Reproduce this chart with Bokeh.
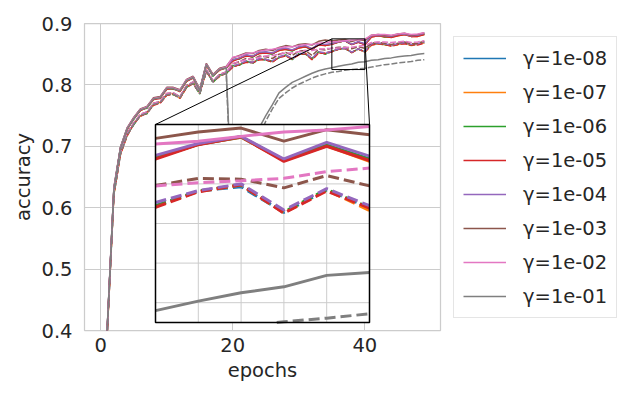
import math
from bokeh.plotting import figure
from bokeh.models import Range1d, FixedTicker, PrintfTickFormatter, Legend, LegendItem
from bokeh.embed import file_html
from bokeh.resources import INLINE

# ---------------- data ----------------
epochs = list(range(50))
gammas = ["1e-08", "1e-07", "1e-06", "1e-05", "1e-04", "1e-03", "1e-02", "1e-01"]
colors = ["#1f77b4", "#ff7f0e", "#2ca02c", "#d62728", "#9467bd", "#8c564b", "#e377c2", "#7f7f7f"]

train_g8 = [0.300, 0.405, 0.630, 0.697, 0.728, 0.745, 0.759, 0.763, 0.777, 0.779, 0.794, 0.794, 0.790, 0.807, 0.812, 0.791, 0.833, 0.815, 0.825, 0.828,
            0.840, 0.843, 0.848, 0.846, 0.852, 0.853, 0.851, 0.857, 0.859, 0.856, 0.861, 0.863, 0.858, 0.866, 0.865,
            0.8668, 0.8700, 0.8718, 0.8660, 0.8698, 0.8663, 0.879, 0.880, 0.879, 0.878, 0.881, 0.882, 0.879, 0.880, 0.883]
train_g7 = [0.296, 0.402, 0.628, 0.696, 0.727, 0.746, 0.758, 0.764, 0.776, 0.780, 0.793, 0.795, 0.789, 0.806, 0.813, 0.792, 0.832, 0.816, 0.824, 0.829,
            0.839, 0.844, 0.847, 0.847, 0.851, 0.852, 0.852, 0.856, 0.858, 0.857, 0.860, 0.862, 0.859, 0.865, 0.864,
            0.8666, 0.8700, 0.8718, 0.8659, 0.8696, 0.8657, 0.878, 0.880, 0.878, 0.878, 0.880, 0.882, 0.879, 0.879, 0.882]
train_g6 = [0.302, 0.404, 0.631, 0.698, 0.729, 0.744, 0.760, 0.762, 0.778, 0.779, 0.795, 0.793, 0.791, 0.806, 0.812, 0.790, 0.834, 0.814, 0.826, 0.827,
            0.841, 0.842, 0.849, 0.845, 0.853, 0.852, 0.850, 0.858, 0.858, 0.855, 0.862, 0.862, 0.857, 0.867, 0.864,
            0.8665, 0.8700, 0.8719, 0.8660, 0.8697, 0.8662, 0.879, 0.881, 0.878, 0.879, 0.881, 0.883, 0.880, 0.880, 0.883]
train_g5 = [0.298, 0.403, 0.629, 0.696, 0.727, 0.745, 0.758, 0.763, 0.776, 0.778, 0.793, 0.794, 0.789, 0.806, 0.811, 0.791, 0.832, 0.815, 0.824, 0.828,
            0.839, 0.843, 0.847, 0.846, 0.851, 0.852, 0.851, 0.856, 0.858, 0.856, 0.860, 0.862, 0.858, 0.865, 0.864,
            0.8663, 0.8699, 0.8719, 0.8657, 0.8695, 0.8659, 0.878, 0.880, 0.879, 0.877, 0.880, 0.882, 0.879, 0.879, 0.882]
train_g4 = [0.301, 0.406, 0.632, 0.698, 0.729, 0.746, 0.760, 0.764, 0.778, 0.780, 0.795, 0.795, 0.791, 0.808, 0.813, 0.792, 0.834, 0.816, 0.826, 0.829,
            0.841, 0.844, 0.849, 0.847, 0.853, 0.854, 0.852, 0.858, 0.860, 0.857, 0.862, 0.864, 0.859, 0.867, 0.866,
            0.8672, 0.8702, 0.8720, 0.8663, 0.8705, 0.8670, 0.880, 0.881, 0.880, 0.879, 0.882, 0.883, 0.880, 0.881, 0.884]
train_g3 = [0.303, 0.407, 0.633, 0.699, 0.730, 0.747, 0.761, 0.765, 0.779, 0.781, 0.796, 0.796, 0.792, 0.809, 0.814, 0.793, 0.835, 0.817, 0.827, 0.830,
            0.844, 0.848, 0.852, 0.851, 0.856, 0.858, 0.856, 0.861, 0.864, 0.862, 0.866, 0.867, 0.865, 0.871, 0.873,
            0.8715, 0.8731, 0.8741, 0.8708, 0.8737, 0.8724, 0.881, 0.882, 0.881, 0.880, 0.883, 0.884, 0.881, 0.882, 0.885]
train_g2 = [0.302, 0.406, 0.632, 0.698, 0.729, 0.746, 0.760, 0.764, 0.778, 0.780, 0.795, 0.795, 0.791, 0.808, 0.813, 0.792, 0.834, 0.816, 0.826, 0.829,
            0.845, 0.847, 0.851, 0.852, 0.855, 0.857, 0.858, 0.860, 0.862, 0.862, 0.864, 0.866, 0.866, 0.868, 0.869,
            0.8701, 0.8708, 0.8720, 0.8731, 0.8736, 0.8745, 0.881, 0.882, 0.882, 0.881, 0.883, 0.884, 0.882, 0.883, 0.885]
train_g1 = [0.300, 0.405, 0.630, 0.697, 0.728, 0.745, 0.759, 0.763, 0.777, 0.779, 0.794, 0.794, 0.790, 0.807, 0.812, 0.791, 0.833, 0.815, 0.825, 0.828,
            0.570, 0.460, 0.520, 0.640, 0.730, 0.750, 0.768, 0.787, 0.796, 0.804, 0.809, 0.814, 0.819, 0.823, 0.826,
            0.8280, 0.8304, 0.8325, 0.8340, 0.8369, 0.8376, 0.840, 0.841, 0.843, 0.844, 0.846, 0.847, 0.848, 0.850, 0.851]

test_g8 = [0.280, 0.398, 0.622, 0.688, 0.718, 0.736, 0.750, 0.754, 0.768, 0.771, 0.784, 0.785, 0.779, 0.797, 0.803, 0.786, 0.823, 0.805, 0.815, 0.819,
           0.830, 0.833, 0.838, 0.836, 0.842, 0.841, 0.838, 0.845, 0.848, 0.842, 0.850, 0.851, 0.842, 0.853, 0.851,
           0.8545, 0.8582, 0.8593, 0.8528, 0.8585, 0.8540, 0.866, 0.867, 0.866, 0.864, 0.866, 0.868, 0.865, 0.866, 0.869]
test_g7 = [0.276, 0.396, 0.620, 0.687, 0.717, 0.737, 0.749, 0.755, 0.767, 0.772, 0.783, 0.786, 0.778, 0.796, 0.804, 0.787, 0.822, 0.806, 0.814, 0.820,
           0.829, 0.834, 0.837, 0.837, 0.841, 0.842, 0.837, 0.846, 0.847, 0.843, 0.849, 0.852, 0.841, 0.852, 0.852,
           0.8543, 0.8581, 0.8597, 0.8527, 0.8584, 0.8533, 0.865, 0.867, 0.865, 0.864, 0.865, 0.868, 0.864, 0.866, 0.868]
test_g6 = [0.282, 0.399, 0.623, 0.689, 0.719, 0.735, 0.751, 0.753, 0.769, 0.771, 0.785, 0.784, 0.780, 0.796, 0.803, 0.785, 0.824, 0.804, 0.816, 0.818,
           0.831, 0.832, 0.839, 0.835, 0.843, 0.840, 0.839, 0.844, 0.849, 0.841, 0.851, 0.850, 0.843, 0.854, 0.850,
           0.8544, 0.8582, 0.8598, 0.8529, 0.8586, 0.8540, 0.866, 0.868, 0.865, 0.865, 0.866, 0.869, 0.865, 0.867, 0.869]
test_g5 = [0.278, 0.397, 0.621, 0.687, 0.717, 0.736, 0.749, 0.754, 0.767, 0.770, 0.783, 0.785, 0.778, 0.796, 0.802, 0.786, 0.822, 0.805, 0.814, 0.819,
           0.829, 0.833, 0.837, 0.836, 0.841, 0.841, 0.837, 0.845, 0.847, 0.842, 0.849, 0.851, 0.841, 0.852, 0.851,
           0.8541, 0.8580, 0.8598, 0.8526, 0.8582, 0.8539, 0.865, 0.867, 0.866, 0.863, 0.866, 0.867, 0.865, 0.865, 0.868]
test_g4 = [0.281, 0.400, 0.624, 0.690, 0.720, 0.737, 0.751, 0.755, 0.769, 0.772, 0.785, 0.786, 0.780, 0.798, 0.804, 0.787, 0.824, 0.806, 0.816, 0.820,
           0.831, 0.834, 0.839, 0.837, 0.843, 0.842, 0.839, 0.846, 0.849, 0.843, 0.851, 0.852, 0.843, 0.854, 0.852,
           0.8553, 0.8583, 0.8600, 0.8534, 0.8588, 0.8545, 0.867, 0.868, 0.867, 0.865, 0.867, 0.869, 0.866, 0.867, 0.870]
test_g3 = [0.283, 0.401, 0.625, 0.691, 0.721, 0.738, 0.752, 0.756, 0.770, 0.773, 0.786, 0.787, 0.781, 0.799, 0.805, 0.788, 0.825, 0.807, 0.817, 0.821,
           0.834, 0.838, 0.843, 0.841, 0.847, 0.846, 0.843, 0.850, 0.853, 0.848, 0.855, 0.856, 0.848, 0.858, 0.857,
           0.8596, 0.8614, 0.8612, 0.8590, 0.8621, 0.8595, 0.868, 0.869, 0.868, 0.866, 0.868, 0.870, 0.867, 0.868, 0.871]
test_g2 = [0.282, 0.400, 0.624, 0.690, 0.720, 0.738, 0.752, 0.756, 0.770, 0.773, 0.786, 0.787, 0.781, 0.799, 0.805, 0.788, 0.825, 0.807, 0.817, 0.821,
           0.835, 0.838, 0.841, 0.842, 0.845, 0.847, 0.848, 0.850, 0.852, 0.852, 0.854, 0.856, 0.856, 0.858, 0.859,
           0.8595, 0.8603, 0.8608, 0.8614, 0.8631, 0.8640, 0.869, 0.870, 0.870, 0.869, 0.870, 0.871, 0.869, 0.870, 0.872]
test_g1 = [0.280, 0.398, 0.622, 0.688, 0.718, 0.736, 0.750, 0.754, 0.768, 0.771, 0.784, 0.785, 0.779, 0.797, 0.803, 0.786, 0.823, 0.805, 0.815, 0.819,
           0.560, 0.450, 0.510, 0.620, 0.716, 0.741, 0.761, 0.778, 0.787, 0.795, 0.801, 0.806, 0.811, 0.815, 0.818,
           0.8205, 0.8220, 0.8240, 0.8252, 0.8261, 0.8272, 0.829, 0.831, 0.833, 0.834, 0.836, 0.837, 0.838, 0.840, 0.841]

train_series = [train_g8, train_g7, train_g6, train_g5, train_g4, train_g3, train_g2, train_g1]
test_series = [test_g8, test_g7, test_g6, test_g5, test_g4, test_g3, test_g2, test_g1]

x_ticks = [0, 20, 40]
y_ticks = [0.4, 0.5, 0.6, 0.7, 0.8, 0.9]
x_limits = (-2.45, 51.45)
y_limits = (0.4, 0.9)
inset_x_limits = (35, 40)
inset_y_limits = (0.825, 0.875)
inset_x_ticks = [35, 36, 37, 38, 39, 40]
inset_y_ticks = [0.83, 0.84, 0.85, 0.86, 0.87]

# ---------------- layout constants ----------------
FONT = "DejaVu Sans"
TXT = "#262626"
GRID = "#cccccc"
FS = "19.5px"
BL, BR, BT, BB = 84, 199, 23, 69
FW, FH = 356, 307
# inset frame, in pixels relative to the main frame's left / bottom edge
INSET_LEFT, INSET_BOTTOM = 71, 8
INSET_W, INSET_H = 214, 198

p = figure(frame_width=FW, frame_height=FH,
           min_border_left=BL, min_border_right=BR, min_border_top=BT, min_border_bottom=BB,
           x_range=Range1d(*x_limits), y_range=Range1d(*y_limits),
           output_backend="svg", toolbar_location=None,
           background_fill_color="white", border_fill_color="white")
p.outline_line_color = GRID
p.outline_line_width = 1.25
p.xaxis.ticker = FixedTicker(ticks=x_ticks)
p.yaxis.ticker = FixedTicker(ticks=y_ticks)
p.xgrid.ticker = FixedTicker(ticks=x_ticks)
p.ygrid.ticker = FixedTicker(ticks=y_ticks)
p.yaxis.formatter = PrintfTickFormatter(format="%.1f")
p.xaxis.axis_label = "epochs"
p.yaxis.axis_label = "accuracy"
for ax in (p.xaxis[0], p.yaxis[0]):
    ax.axis_line_color = None
    ax.major_tick_line_color = None
    ax.minor_tick_line_color = None
    ax.major_tick_out = 0
    ax.major_tick_in = 0
    ax.minor_tick_out = 0
    ax.minor_tick_in = 0
    ax.major_label_text_font = FONT
    ax.major_label_text_font_size = FS
    ax.major_label_text_color = TXT
    ax.axis_label_text_font = FONT
    ax.axis_label_text_font_size = FS
    ax.axis_label_text_font_style = "normal"
    ax.axis_label_text_color = TXT
p.xaxis.major_label_standoff = 7
p.yaxis.major_label_standoff = 12
p.xaxis.axis_label_standoff = 4
p.yaxis.axis_label_standoff = 3
for g in (p.xgrid[0], p.ygrid[0]):
    g.grid_line_color = GRID
    g.grid_line_width = 1

# extra ranges that map the inset window onto its sub-rectangle of the frame
sx = (inset_x_limits[1] - inset_x_limits[0]) / INSET_W
sy = (inset_y_limits[1] - inset_y_limits[0]) / INSET_H
ix_start = inset_x_limits[0] - INSET_LEFT * sx
iy_start = inset_y_limits[0] - INSET_BOTTOM * sy
p.extra_x_ranges = {"ix": Range1d(ix_start, ix_start + FW * sx)}
p.extra_y_ranges = {"iy": Range1d(iy_start, iy_start + FH * sy)}


def clip_to_window(xs, ys, x0, x1, y0, y1):
    """Liang-Barsky clip of a polyline to the inset window (NaN breaks)."""
    ox, oy = [], []
    last = None
    for i in range(len(xs) - 1):
        ax_, ay_, bx_, by_ = xs[i], ys[i], xs[i + 1], ys[i + 1]
        dx_, dy_ = bx_ - ax_, by_ - ay_
        t0, t1 = 0.0, 1.0
        ok = True
        for pp, qq in ((-dx_, ax_ - x0), (dx_, x1 - ax_), (-dy_, ay_ - y0), (dy_, y1 - ay_)):
            if pp == 0:
                if qq < 0:
                    ok = False
                    break
            else:
                r = qq / pp
                if pp < 0:
                    t0 = max(t0, r)
                else:
                    t1 = min(t1, r)
        if not ok or t0 > t1:
            continue
        sx0, sy0 = ax_ + t0 * dx_, ay_ + t0 * dy_
        sx1, sy1 = ax_ + t1 * dx_, ay_ + t1 * dy_
        if last is None or abs(last[0] - sx0) > 1e-12 or abs(last[1] - sy0) > 1e-12:
            if ox:
                ox.append(math.nan)
                oy.append(math.nan)
            ox.append(sx0)
            oy.append(sy0)
        ox.append(sx1)
        oy.append(sy1)
        last = (sx1, sy1)
    return ox, oy


# main lines
items = []
for gam, col, tr, te in zip(gammas, colors, train_series, test_series):
    r = p.line(epochs, tr, line_color=col, line_width=1.5)
    p.line(epochs, te, line_color=col, line_width=1.5, line_dash="6 2")
    items.append(LegendItem(label="γ=" + gam, renderers=[r]))

# zoom rectangle and connectors (drawn in the main data space)
p.quad(left=[inset_x_limits[0]], right=[inset_x_limits[1]],
       bottom=[inset_y_limits[0]], top=[inset_y_limits[1]],
       fill_color=None, line_color="black", line_width=1)
dxm = (x_limits[1] - x_limits[0]) / FW
dym = (y_limits[1] - y_limits[0]) / FH
c_left = x_limits[0] + INSET_LEFT * dxm
c_right = x_limits[0] + (INSET_LEFT + INSET_W) * dxm
c_top = y_limits[0] + (INSET_BOTTOM + INSET_H) * dym
p.segment(x0=[inset_x_limits[0], inset_x_limits[1]], y0=[inset_y_limits[1], inset_y_limits[1]],
          x1=[c_left, c_right], y1=[c_top, c_top], line_color="black", line_width=1)

# inset: background, grid, lines, border
bg = p.quad(left=[inset_x_limits[0]], right=[inset_x_limits[1]],
            bottom=[inset_y_limits[0]], top=[inset_y_limits[1]],
            fill_color="white", line_color=None, x_range_name="ix", y_range_name="iy")
bg.level = "overlay"
gv = p.segment(x0=inset_x_ticks, x1=inset_x_ticks,
               y0=[inset_y_limits[0]] * len(inset_x_ticks), y1=[inset_y_limits[1]] * len(inset_x_ticks),
               line_color=GRID, line_width=1, x_range_name="ix", y_range_name="iy")
gv.level = "overlay"
gh = p.segment(x0=[inset_x_limits[0]] * len(inset_y_ticks), x1=[inset_x_limits[1]] * len(inset_y_ticks),
               y0=inset_y_ticks, y1=inset_y_ticks,
               line_color=GRID, line_width=1, x_range_name="ix", y_range_name="iy")
gh.level = "overlay"
for col, tr, te in zip(colors, train_series, test_series):
    for ys, dash in ((tr, "solid"), (te, "11 5")):
        cx, cy = clip_to_window(epochs, ys, *inset_x_limits, *inset_y_limits)
        if not cx:
            continue
        rr = p.line(cx, cy, line_color=col, line_width=3, line_dash=dash,
                    x_range_name="ix", y_range_name="iy")
        rr.level = "overlay"
bd = p.quad(left=[inset_x_limits[0]], right=[inset_x_limits[1]],
            bottom=[inset_y_limits[0]], top=[inset_y_limits[1]],
            fill_color=None, line_color="black", line_width=1.5, x_range_name="ix", y_range_name="iy")
bd.level = "overlay"

legend = Legend(items=items, location="top_left", margin=13,
                label_text_font=FONT, label_text_font_size=FS, label_text_color=TXT,
                glyph_width=43, glyph_height=24, label_height=24, label_standoff=17,
                spacing=10, padding=9,
                border_line_color=GRID, border_line_width=1,
                background_fill_color="white", background_fill_alpha=1.0)
p.add_layout(legend, "right")

open("out.html", "w").write(file_html(p, INLINE))
